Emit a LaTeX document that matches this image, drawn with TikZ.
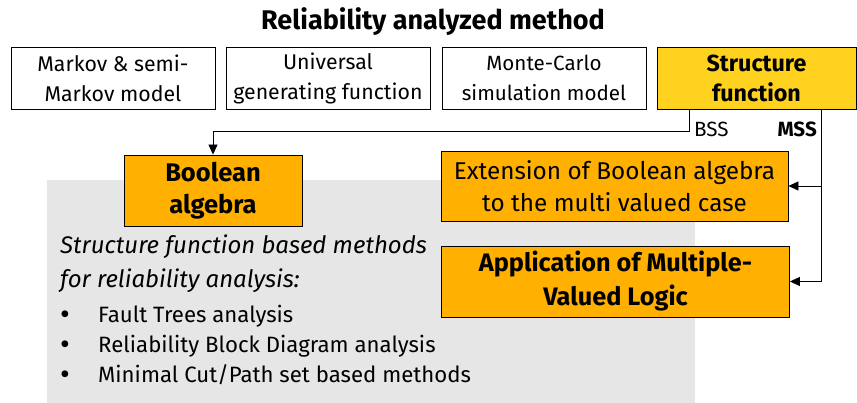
\documentclass[tikz,border=0pt]{standalone}
\usepackage{fontspec}
\setmainfont{Fira Sans}
\usetikzlibrary{arrows.meta}
\definecolor{sfyellow}{HTML}{FFD21F}
\definecolor{amber}{HTML}{FFB000}
\definecolor{panel}{HTML}{E6E6E6}
\newcommand{\bigbul}{\raisebox{-2.5pt}{\fontsize{30}{30}\selectfont\textbullet}}
\tikzset{
  method/.style={draw=black, line width=0.8pt, minimum width=204pt, minimum height=62pt, align=center, inner sep=0pt, font=\fontsize{21.3}{30}\selectfont},
  hl/.style={draw=black, line width=0.8pt, align=center, inner sep=0pt, font=\fontsize{24.3}{32}\selectfont},
  conn/.style={draw=black, line width=0.8pt},
  arr/.style={conn, -{Triangle[length=10pt,width=9pt]}},
  lbl/.style={inner sep=0pt, font=\fontsize{20.6}{24}\selectfont},
}
\begin{document}
\begin{tikzpicture}[x=1pt,y=-1pt]
\useasboundingbox (0,0) rectangle (857,403);
\fill[panel] (47,180) rectangle (695,403);
\node[font=\fontsize{27}{32}\selectfont\bfseries] (title) at (433,22) {Reliability analyzed method};
\node[method] (m1) at (113,78) {Markov \& semi-\\Markov model};
\node[method] (m2) at (328,78) {Universal\\generating function};
\node[method, font=\fontsize{20.6}{30}\selectfont] (m3) at (544,78) {Monte-Carlo\\simulation model};
\node[method, fill=sfyellow, minimum width=199pt, font=\fontsize{23.3}{30}\selectfont\bfseries] (sf) at (756.5,78) {Structure\\function};
\node[hl, fill=amber, minimum width=178pt, minimum height=71pt, font=\fontsize{25.5}{32}\selectfont\bfseries] (bool) at (213,190.5) {Boolean\\algebra};
\node[hl, fill=amber, minimum width=347pt, minimum height=70pt] (ext) at (614.5,186) {Extension of Boolean algebra\\to the multi valued case};
\node[hl, fill=amber, minimum width=348pt, minimum height=71pt, font=\fontsize{25.3}{34}\selectfont\bfseries] (app) at (615.5,281.5) {Application of Multiple-\\Valued Logic};
\coordinate (bss) at (689,131);
\coordinate (mss) at (821,131);
\draw[arr] (sf.south -| bss) -- (bss) -| (bool.north);
\draw[arr] (sf.south -| mss) |- (app.east);
\draw[arr] (mss |- ext.east) -- (ext.east);
\node[lbl, anchor=west] (bsslbl) at (694,129) {BSS};
\node[lbl, anchor=east, font=\fontsize{20.6}{24}\selectfont\bfseries] (msslbl) at (817,129) {MSS};
\node[anchor=west, align=left, inner sep=0pt, font=\fontsize{24}{34}\selectfont\itshape] (sfm) at (60,264) {Structure function based methods\\for reliability analysis:};
\node[anchor=north west, inner sep=0pt, font=\fontsize{22.2}{30}\selectfont] (list) at (60,301) {%
\begin{tabular}{@{}p{38pt}@{}l@{}}
\bigbul & Fault Trees analysis\\
\bigbul & Reliability Block Diagram analysis\\
\bigbul & Minimal Cut/Path set based methods
\end{tabular}};
\end{tikzpicture}
\end{document}
